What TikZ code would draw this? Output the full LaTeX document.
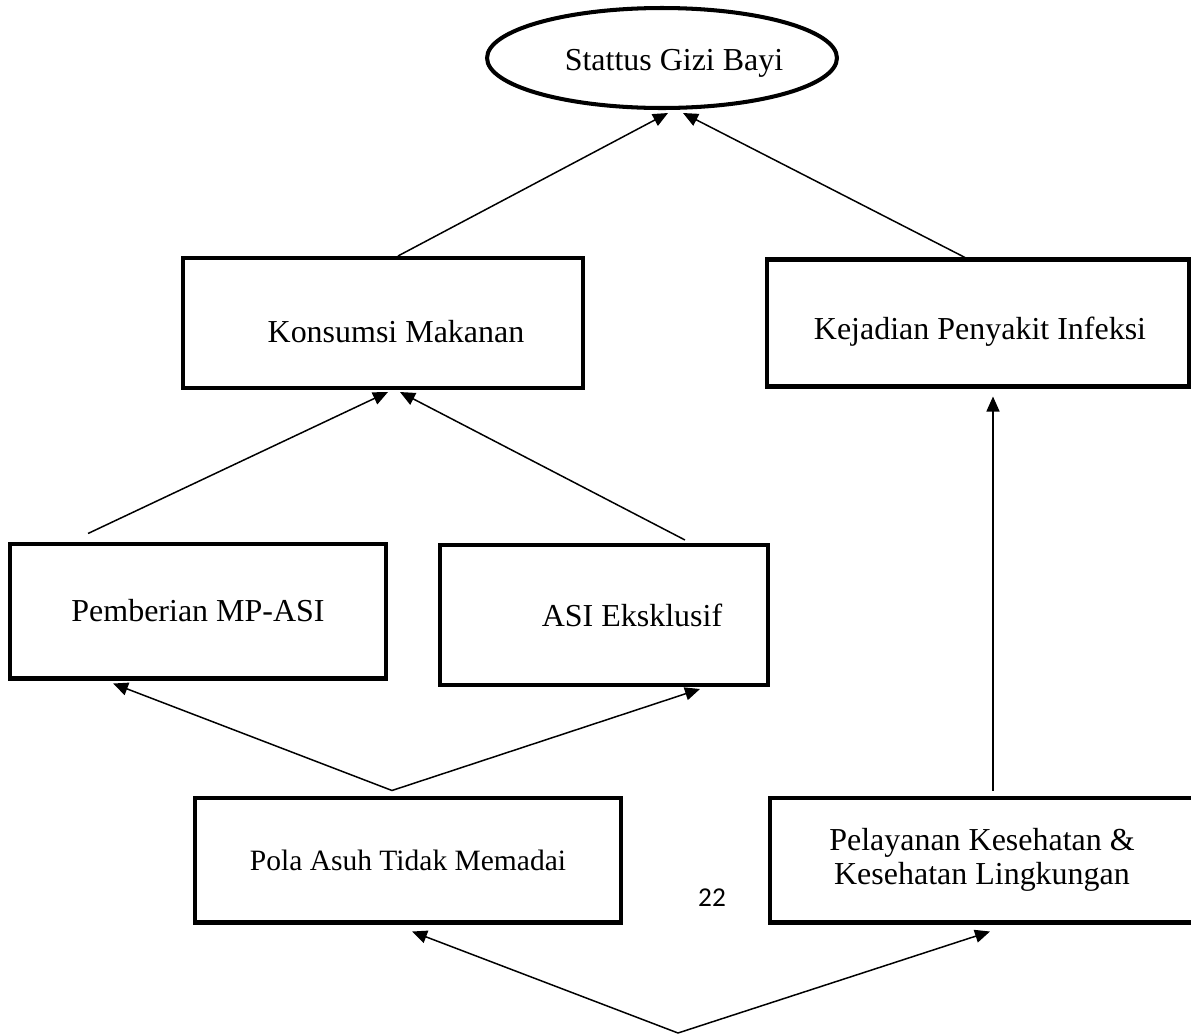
\documentclass[tikz,border=0pt]{standalone}
\usepackage{fontspec}
\setmainfont{Liberation Serif}
\newfontfamily\pagefont{Carlito}
\usetikzlibrary{
   arrows.meta,
   shapes.geometric,
   positioning
}

\begin{document}
\begin{tikzpicture}[
    x=0.02cm, y=-0.02cm,
    every node/.style={font=\fontsize{18.2}{19}\selectfont},
    box/.style={rectangle, draw, line width=2.3pt, align=center, inner sep=2pt},
    oval/.style={ellipse, draw, line width=2.3pt, minimum width=7cm, minimum height=2cm},
    arr/.style={-{Triangle[length=0.3cm, width=0.26cm]}, line width=0.85pt}
]
\clip (0,0) rectangle (1191,1035);

% top
\node[oval, label={[xshift=0.24cm, yshift=-0.1cm]center:Stattus Gizi Bayi}] (status) at (662,58) {};

% second row
\node[box, minimum width=8cm, minimum height=2.6cm,
      label={[xshift=0.26cm, yshift=-0.18cm]center:Konsumsi Makanan}] (konsumsi) at (383,323) {};
\node[box, minimum width=8.46cm, minimum height=2.54cm,
      label={[xshift=0.04cm, yshift=-0.18cm]center:Kejadian Penyakit Infeksi}] (kejadian) at (978,323) {};

% third row
\node[box, minimum width=7.54cm, minimum height=2.7cm] (mpasi) at (198,611) {Pemberian MP-ASI};
\node[box, minimum width=6.56cm, minimum height=2.8cm,
      label={[xshift=0.56cm]center:ASI Eksklusif}] (asi) at (604,615) {};

% bottom row
\node[box, minimum width=8.54cm, minimum height=2.5cm, font=\fontsize{16.8}{19}\selectfont] (pola) at (408,860) {Pola Asuh Tidak Memadai};
\node[box, minimum width=8.5cm, minimum height=2.5cm] (pelayanan) at (982,860) {Pelayanan Kesehatan \&\\Kesehatan Lingkungan};

% page number
\node[font=\pagefont\fontsize{15.5}{18}\selectfont] (hal) at (712,898) {22};

\coordinate (src) at (678,1033);

% arrows
\draw[arr] ([xshift=0.3cm]konsumsi.north) -- ([xshift=0.12cm, yshift=-0.06cm]status.south);
\draw[arr] ([xshift=-0.26cm]kejadian.north) -- ([xshift=0.42cm, yshift=-0.06cm]status.south);

\draw[arr] ([xshift=-2.2cm, yshift=0.16cm]mpasi.north) -- ([xshift=0.1cm, yshift=-0.04cm]konsumsi.south);
\draw[arr] ([xshift=1.62cm, yshift=0.06cm]asi.north) -- ([xshift=0.34cm, yshift=-0.04cm]konsumsi.south);

\draw[arr] ([xshift=-0.32cm, yshift=0.1cm]pola.north) -- ([xshift=-1.7cm, yshift=-0.06cm]mpasi.south);
\draw[arr] ([xshift=-0.32cm, yshift=0.1cm]pola.north) -- ([xshift=1.92cm, yshift=-0.04cm]asi.south);

\draw[arr] ([xshift=0.22cm, yshift=0.1cm]pelayanan.north)
   -- ([xshift=0.22cm, yshift=-0.16cm]pelayanan.north |- kejadian.south);

\draw[arr] (src) -- ([xshift=0.08cm, yshift=-0.14cm]pola.south);
\draw[arr] (src) -- ([xshift=0.16cm, yshift=-0.14cm]pelayanan.south);

\end{tikzpicture}
\end{document}
